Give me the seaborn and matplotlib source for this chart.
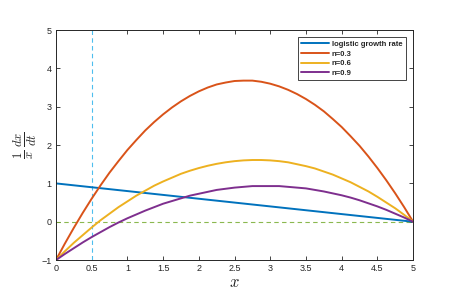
import numpy as np
import pandas as pd
import matplotlib
matplotlib.use("Agg")
import matplotlib.pyplot as plt
import seaborn as sns

# values, x step 0.125
x = [0, 0.125, 0.25, 0.375, 0.5, 0.625, 0.75, 0.875, 1.0, 1.125, 1.25,
     1.375, 1.5, 1.625, 1.75, 1.875, 2.0, 2.125, 2.25, 2.375, 2.5,
     2.625, 2.75, 2.875, 3.0, 3.125, 3.25, 3.375, 3.5, 3.625, 3.75,
     3.875, 4.0, 4.125, 4.25, 4.375, 4.5, 4.625, 4.75, 4.875, 5.0]
n03 = [-1.0, -0.57, -0.16, 0.23, 0.6, 0.95, 1.28, 1.58, 1.87, 2.13, 2.38,
       2.6, 2.8, 2.98, 3.14, 3.28, 3.4, 3.5, 3.58, 3.63, 3.67,
       3.68, 3.68, 3.65, 3.6, 3.53, 3.44, 3.33, 3.2, 3.05, 2.88,
       2.68, 2.47, 2.23, 1.98, 1.7, 1.4, 1.08, 0.74, 0.38, 0.0]
n06 = [-1.0, -0.77, -0.55, -0.35, -0.15, 0.04, 0.21, 0.38, 0.53, 0.68, 0.81,
       0.94, 1.05, 1.15, 1.25, 1.33, 1.4, 1.46, 1.51, 1.55, 1.58,
       1.6, 1.61, 1.61, 1.6, 1.58, 1.55, 1.5, 1.45, 1.39, 1.31,
       1.23, 1.13, 1.03, 0.91, 0.79, 0.65, 0.5, 0.35, 0.18, 0.0]
n09 = [-1.0, -0.84, -0.69, -0.54, -0.4, -0.27, -0.14, -0.02, 0.09, 0.19, 0.29,
       0.38, 0.47, 0.54, 0.61, 0.68, 0.73, 0.78, 0.83, 0.86, 0.89,
       0.91, 0.93, 0.93, 0.93, 0.93, 0.91, 0.89, 0.87, 0.83, 0.79,
       0.74, 0.69, 0.63, 0.56, 0.48, 0.4, 0.31, 0.21, 0.11, 0.0]
logistic_x = [0, 5]
logistic_y = [1, 0]

x_ticks = [0, 0.5, 1, 1.5, 2, 2.5, 3, 3.5, 4, 4.5, 5]
y_ticks = [-1, 0, 1, 2, 3, 4, 5]
x_mark = 0.5

df = pd.DataFrame({"x": x, "n=0.3": n03, "n=0.6": n06, "n=0.9": n09})

sns.set_theme(style="ticks")
plt.rcParams["font.family"] = ["Liberation Sans", "DejaVu Sans"]
plt.rcParams["mathtext.fontset"] = "cm"

fig = plt.figure(figsize=(4.51, 3.0), dpi=100)
ax = fig.add_axes([0.124, 0.133, 0.792, 0.767])

ax.axvline(x_mark, color="#4DBEEE", ls=(0, (4, 3)), lw=0.8)
ax.axhline(0, color="#77AC30", ls=(0, (4, 3)), lw=0.8, alpha=0.85)

sns.lineplot(x=logistic_x, y=logistic_y, ax=ax, color="#0072BD", lw=1.4,
             label="logistic growth rate")
for col, c in zip(["n=0.3", "n=0.6", "n=0.9"], ["#D95319", "#EDB120", "#7E2F8E"]):
    sns.lineplot(data=df, x="x", y=col, ax=ax, color=c, lw=1.4, label=col)

ax.set_xlim(0, 5)
ax.set_ylim(-1, 5)
ax.set_xticks(x_ticks)
ax.set_xticklabels([f"{t:g}" for t in x_ticks])
ax.set_yticks(y_ticks)
ax.tick_params(direction="in", length=3, width=0.6, labelsize=6.5,
               top=True, right=True, colors="#262626", pad=3)
for s in ax.spines.values():
    s.set_linewidth(0.7)
    s.set_color("#262626")

ax.set_xlabel(r"$x$", fontsize=12, labelpad=1)
ax.set_ylabel(r"$\frac{1}{x}\,\frac{dx}{dt}$", fontsize=13, labelpad=2)

leg = ax.legend(loc="upper right", fontsize=5.5, frameon=True, fancybox=False,
                edgecolor="#262626", framealpha=1, handlelength=3.6,
                borderpad=0.45, labelspacing=0.3, handletextpad=0.4,
                bbox_to_anchor=(0.99, 0.985))
leg.get_frame().set_linewidth(0.6)
for t in leg.get_texts():
    t.set_fontweight("bold")

fig.savefig("out.png", dpi=100)
